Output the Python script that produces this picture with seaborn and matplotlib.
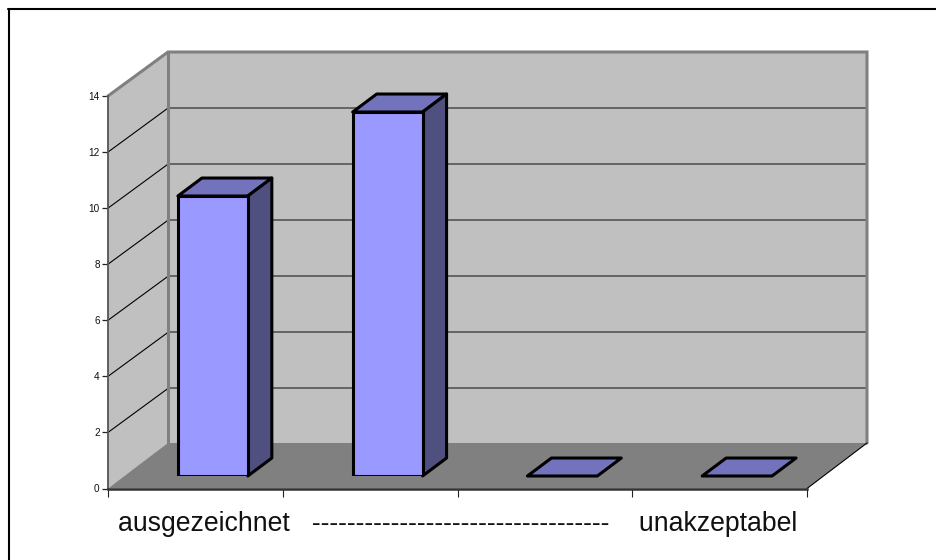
import matplotlib
matplotlib.use("Agg")
import matplotlib.pyplot as plt
from matplotlib.patches import Polygon
from matplotlib.lines import Line2D
import seaborn as sns

categories = ["1", "2", "3", "4"]
values = [10, 13, 0, 0]
y_ticks = [0, 2, 4, 6, 8, 10, 12, 14]
axis_title = "ausgezeichnet   ----------------------------------    unakzeptabel"

W, H = 936, 560
C_FRONT, C_TOP, C_SIDE = "#9999FF", "#7373BD", "#4F4F80"
C_WALL, C_FLOOR, C_EDGE = "#C0C0C0", "#808080", "#808080"

sns.set_theme(style="white", rc={"font.family": ["Liberation Sans", "DejaVu Sans"]})
fig = plt.figure(figsize=(W / 100, H / 100), dpi=100, facecolor="white")


def axes_px(x0, y_top, x1, y_bot):
    return fig.add_axes([x0 / W, 1 - y_bot / H, (x1 - x0) / W, (y_bot - y_top) / H])


# frame lines: only top and left
fig.add_artist(Line2D([8.5 / W, 8.5 / W], [0, 1 - 9 / H], color="black", lw=1.5))
fig.add_artist(Line2D([8 / W, 1], [1 - 9 / H, 1 - 9 / H], color="black", lw=1.5))

# front plane axes (axis lines, ticks, walls)
ax = axes_px(108, 96, 807, 488.5)
ax.set_xlim(0, 4)
ax.set_ylim(0, 14)
ax.patch.set_visible(False)
unit_x = 699 / 4
unit_y = 392.5 / 14
ddx, ddy = 60 / unit_x, 44 / unit_y   # wall depth in data units
floor_dy = 45.5 / unit_y

ax.add_patch(Polygon([(0, 0), (0, 14), (ddx, 14 + ddy), (ddx, ddy)], closed=True,
                     fc=C_WALL, ec="none", clip_on=False, zorder=1))
ax.add_patch(Polygon([(ddx, ddy), (4 + ddx, ddy), (4 + ddx, 14 + ddy), (ddx, 14 + ddy)], closed=True,
                     fc=C_WALL, ec="none", clip_on=False, zorder=1))
ax.add_patch(Polygon([(0, 0), (4, 0), (4 + ddx, floor_dy), (ddx, floor_dy)], closed=True,
                     fc=C_FLOOR, ec="none", clip_on=False, zorder=3.5))
for v in y_ticks[1:-1]:
    ax.plot([ddx, 4 + ddx], [v + ddy, v + ddy], color="#555555", lw=1.2, clip_on=False, zorder=2)
    ax.plot([0, ddx], [v, v + ddy], color="black", lw=0.8, clip_on=False, zorder=2)
# wall borders
ax.plot([0, ddx, 4 + ddx, 4 + ddx], [14, 14 + ddy, 14 + ddy, floor_dy], color=C_EDGE, lw=2.2,
        clip_on=False, zorder=3, solid_joinstyle="miter")
ax.plot([ddx, ddx], [floor_dy, 14 + ddy], color=C_EDGE, lw=2.2, clip_on=False, zorder=3)
ax.plot([4, 4 + ddx], [0, floor_dy], color="black", lw=0.8, clip_on=False, zorder=3.6)

ax.set_xticks(range(5))
ax.set_xticklabels([])
ax.set_yticks(y_ticks)
ax.tick_params(axis="y", length=4, width=0.9, color="#222222", labelsize=7.2, pad=2,
               left=True, labelcolor="#111111")
ax.tick_params(axis="x", length=5.5, width=0.8, color="#222222", bottom=True)
sns.despine(ax=ax, top=True, right=True)
ax.spines["left"].set_color("#555555")
ax.spines["left"].set_linewidth(1.3)
ax.spines["bottom"].set_color("#333333")
ax.spines["bottom"].set_linewidth(1.8)
ax.spines["left"].set_zorder(4)
ax.spines["bottom"].set_zorder(4)

# bar plane axes, shifted into the depth of the chart
axb = axes_px(125.5, 84, 824.5, 476)
axb.patch.set_visible(False)
sns.barplot(x=categories, y=values, ax=axb, color=C_FRONT, saturation=1, width=0.4,
            edgecolor="black", linewidth=2.2, zorder=5)
axb.set_xlim(-0.5, 3.5)
axb.set_ylim(0, 14)
axb.axis("off")
bdx, bdy = 24 / unit_x, 18 / unit_y
for i, v in enumerate(values):
    l, r = i - 0.2, i + 0.2
    axb.add_patch(Polygon([(l, v), (r, v), (r + bdx, v + bdy), (l + bdx, v + bdy)], closed=True,
                          fc=C_TOP, ec="black", lw=2.2, clip_on=False, zorder=4,
                          joinstyle="round"))
    if v > 0:
        axb.add_patch(Polygon([(r, 0), (r + bdx, bdy), (r + bdx, v + bdy), (r, v)], closed=True,
                              fc=C_SIDE, ec="black", lw=2.2, clip_on=False, zorder=4,
                              joinstyle="round"))

fig.text(118.5 / W, 1 - 531 / H, axis_title, fontsize=19.2, color="#111111", ha="left", va="baseline",
         family=["Liberation Sans", "DejaVu Sans"])

fig.savefig("out.png", dpi=100, facecolor="white")
